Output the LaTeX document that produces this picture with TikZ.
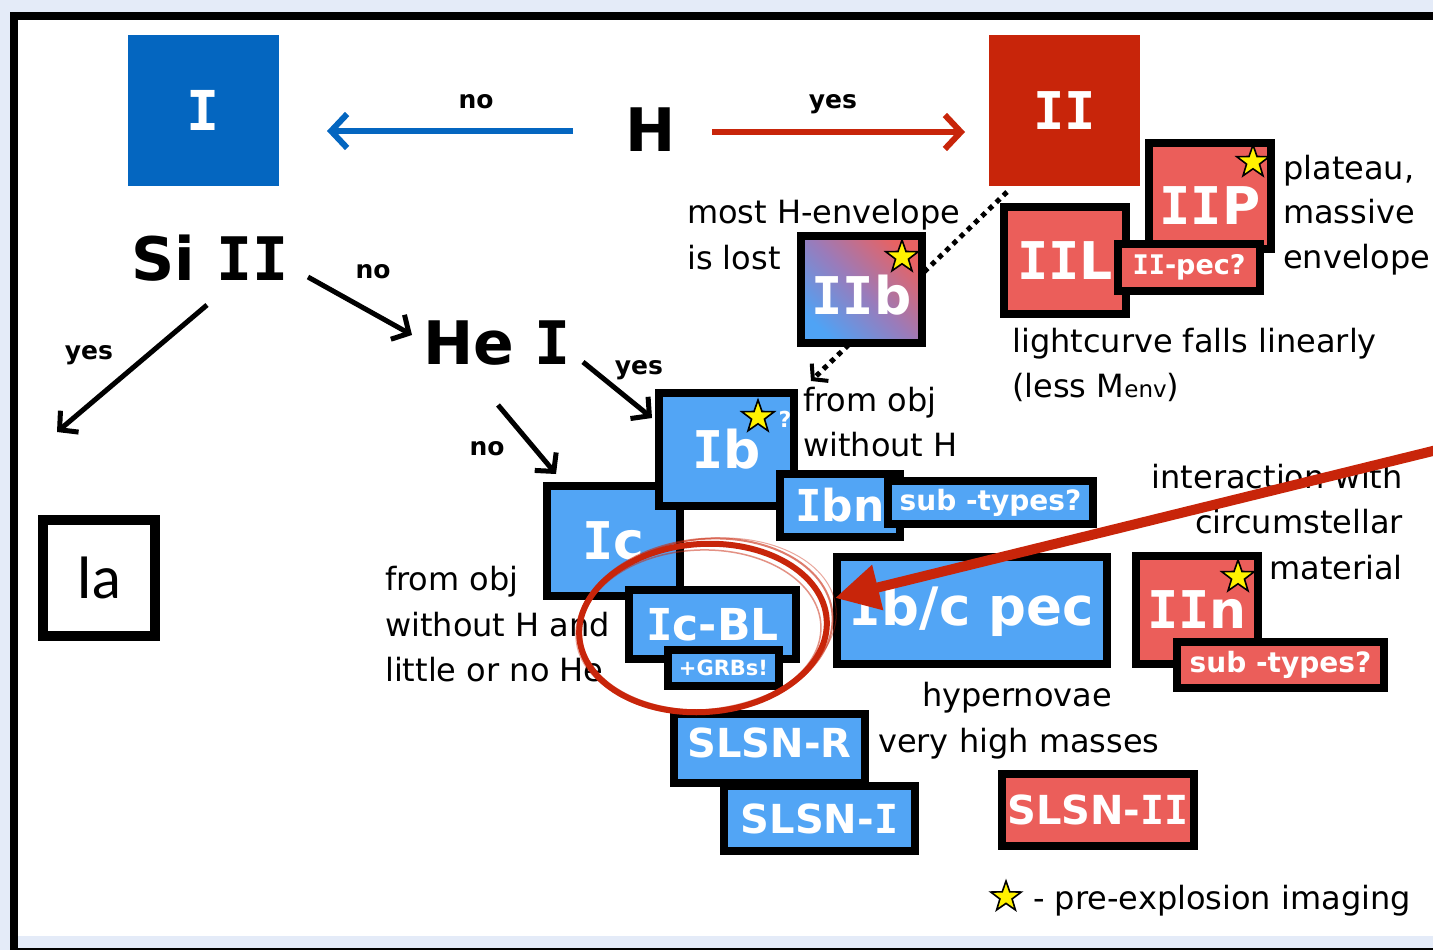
\documentclass[tikz,border=0pt]{standalone}
\usepackage{fontspec}
\setmainfont{DejaVu Sans}
\newfontfamily\monof{DejaVu Sans Mono}
\newfontfamily\latof{Lato}
\usetikzlibrary{shapes.geometric,arrows.meta}
\definecolor{bgc}{HTML}{E4EBF8}
\definecolor{dblue}{HTML}{0466C0}
\definecolor{dred}{HTML}{C8250A}
\definecolor{lblue}{HTML}{52A5F5}
\definecolor{lred}{HTML}{EB5E5A}
\definecolor{gradb}{HTML}{4FA3F5}
\definecolor{gradr}{HTML}{E86262}
\definecolor{gradp}{HTML}{9A7BBA}
\newcommand\fsz[1]{\fontsize{#1}{#1}\selectfont}
\newcommand\Iser{{\monof\bfseries I}}
\begin{document}
\begin{tikzpicture}[x=1pt,y=-1pt,
  tbox/.style={draw=black,line width=8pt,inner sep=0pt,text=white,font=\bfseries\fsz{#1}},
  bbox/.style={tbox=#1,fill=lblue},
  rbox/.style={tbox=#1,fill=lred},
  txt/.style={inner sep=0pt,anchor=base west,font=\fsz{32}},
  lbl/.style={inner sep=0pt,font=\bfseries\fsz{25}},
  ystar/.style={star,star points=5,star point ratio=2.5,fill=yellow,draw=black,line width=1.6pt,minimum size=34pt,inner sep=0pt},
  barrow/.style={line width=5pt,-{Straight Barb[length=13pt,width=28pt]}},
  bigarrow/.style={line width=6pt,-{Straight Barb[length=16pt,width=34pt]}},
  dotline/.style={line width=5pt,dash pattern=on 5pt off 5pt,-{Straight Barb[length=10pt,width=24pt,line width=4pt]}}
]
\useasboundingbox (0,0) rectangle (1433,950);
% frame
\fill[bgc] (0,0) rectangle (1433,950);
\fill[black] (10,12) rectangle (1440,950);
\fill[white] (18,20) rectangle (1440,936);
\fill[bgc] (18,936) rectangle (1440,948);

% main class boxes
\node[fill=dblue,minimum width=151pt,minimum height=151pt,inner sep=0pt,text=white,font=\bfseries\fsz{55}] (I) at (203.5,110.5) {\Iser};
\node[fill=dred,minimum width=151pt,minimum height=151pt,inner sep=0pt,text=white,font=\bfseries\fsz{52}] (II) at (1064.5,110.5) {\Iser\Iser};

\node[inner sep=0pt,font=\bfseries\fsz{60}] (H) at (651,130) {H};
\coordinate (Hl) at (573,131);
\coordinate (Il) at (327,131);
\coordinate (Hr) at (712,132);
\coordinate (IIr) at (965,132);
\draw[bigarrow,dblue] (Hl) -- (Il);
\draw[bigarrow,dred] (Hr) -- (IIr);
\node[lbl] (nolbl1) at (476,102) {no};
\node[lbl] (yeslbl1) at (833,104) {yes};

% Si II / He I tree
\node[inner sep=0pt,font=\bfseries\fsz{60}] (SiII) at (210,258) {Si \Iser\Iser};
\node[inner sep=0pt,font=\bfseries\fsz{60}] (HeI) at (497,343) {He \Iser};
\coordinate (s1) at (308,277); \coordinate (s2) at (412,335);
\coordinate (s3) at (207,305); \coordinate (s4) at (57,432);
\coordinate (h1) at (583,362); \coordinate (h2) at (652,418);
\coordinate (h3) at (498,405); \coordinate (h4) at (556,474);
\draw[barrow] (s1) -- (s2);
\draw[barrow] (s3) -- (s4);
\draw[barrow] (h1) -- (h2);
\draw[barrow] (h3) -- (h4);
\node[lbl] (nolbl2) at (373,272) {no};
\node[lbl] (yeslbl2) at (89,355) {yes};
\node[lbl] (yeslbl3) at (639,370) {yes};
\node[lbl] (nolbl3) at (487,449) {no};

% Ia
\node[draw=black,line width=10pt,fill=white,minimum width=112pt,minimum height=116pt,inner sep=0pt,font=\latof\fsz{58}] (Ia) at (99,578) {Ia};

% texts
\node[txt] (t1) at (687,223) {most H-envelope};
\node[txt] (t2) at (687,269) {is lost};
\node[txt] (t3) at (1283,179) {plateau,};
\node[txt] (t4) at (1283,223) {massive};
\node[txt] (t5) at (1283,268) {envelope};
\node[txt] (t6) at (1012,352) {lightcurve falls linearly};
\node[txt] (t7) at (1012,397) {(less M{\fsz{23}env})};
\node[txt] (t8) at (803,411) {from obj};
\node[txt] (t9) at (803,456) {without H};
\node[txt,anchor=base east] (t10) at (1403,488) {interaction with};
\node[txt,anchor=base east] (t11) at (1403,533) {circumstellar};
\node[txt,anchor=base east] (t12) at (1403,579) {material};
\node[txt] (t13) at (385,590) {from obj};
\node[txt] (t14) at (385,636) {without H and};
\node[txt] (t15) at (385,681) {little or no He};
\node[txt,anchor=base] (t16) at (1017,706) {hypernovae};
\node[txt] (t17) at (878,752) {very high masses};

% dotted IIb line
\coordinate (d1) at (1007,192);
\coordinate (d2) at (811,381);
\draw[dotline] (d1) -- (d2);

% type II family
\node[tbox=52,minimum width=121pt,minimum height=107pt,text height=50pt,text depth=0pt,
  top color=gradr,bottom color=gradb,middle color=gradp,shading angle=-45] (IIb) at (861.5,289.5) {\Iser\Iser b};
\node[ystar] (stIIb) at (902,257) {};
\node[rbox=52,minimum width=122pt,minimum height=107pt] (IIL) at (1065,260.5) {\Iser\Iser L};
\node[rbox=52,minimum width=122pt,minimum height=106pt,text height=56pt,text depth=0pt] (IIP) at (1210,196) {\Iser\Iser P};
\node[ystar] (stIIP) at (1253,162) {};
\node[rbox=27,minimum width=142pt,minimum height=47pt] (IIpec) at (1189,267.5) {\Iser\Iser-pec?};

% type I family
\node[bbox=52,minimum width=133pt,minimum height=110pt] (Ic) at (613.5,541) {\Iser c};
\node[bbox=52,minimum width=135pt,minimum height=113pt] (Ib) at (726.5,449.5) {\Iser b};
\node[ystar] (stIb) at (758,417) {};
\node[inner sep=0pt,text=white,font=\bfseries\fsz{22}] (q) at (785,419) {?};
\node[bbox=44,minimum width=120pt,minimum height=63pt] (Ibn) at (840,505.5) {\Iser bn};
\node[bbox=28,minimum width=205pt,minimum height=43pt] (subB) at (990.5,502.5) {sub -types?};
\node[bbox=44,minimum width=167pt,minimum height=69pt,text height=32pt,text depth=0pt] (IcBL) at (712.5,624.5) {\Iser c-BL};
\node[bbox=21,minimum width=111pt,minimum height=36pt] (GRB) at (723.5,668) {+GRBs!};
\node[bbox=53,minimum width=270pt,minimum height=107pt] (Ibcpec) at (972,610.5) {\Iser b/c pec};
\node[rbox=52,minimum width=122pt,minimum height=108pt] (IIn) at (1197,610) {\Iser\Iser n};
\node[ystar] (stIIn) at (1238,577) {};
\node[rbox=28,minimum width=207pt,minimum height=46pt] (subR) at (1280.5,665) {sub -types?};

% superluminous
\node[bbox=40,minimum width=191pt,minimum height=69pt,text height=17pt,text depth=0pt] (SLSNR) at (769.5,748.5) {SLSN-R};
\node[bbox=40,minimum width=191pt,minimum height=65pt] (SLSNI) at (819.5,818.5) {SLSN-\Iser};
\node[rbox=40,minimum width=192pt,minimum height=72pt] (SLSNII) at (1098,810) {SLSN-\Iser\Iser};

% legend
\node[ystar,minimum size=32pt] (stleg) at (1006,897) {};
\node[txt] (leg) at (1033,909) {- pre-explosion imaging};

% red highlight arrow
\coordinate (rs) at (1445,448);
\coordinate (rt) at (835,598);
\draw[dred,line width=10pt,-{Triangle[length=44pt,width=44pt]}] (rs) -- (rt);

% red brush circle
\draw[dred,line width=6pt,rotate around={4:(703,628)}] (703,628) ellipse [x radius=124pt,y radius=84pt];
\draw[dred,line width=2pt,opacity=.6,rotate around={6:(705,626)}] (705,626) ellipse [x radius=128pt,y radius=87pt];
\draw[dred,line width=1.5pt,opacity=.5,rotate around={2:(701,630)}] (701,630) ellipse [x radius=120pt,y radius=80pt];
\draw[dred,line width=1pt,opacity=.4,rotate around={8:(706,624)}] (706,624) ellipse [x radius=131pt,y radius=85pt];
\end{tikzpicture}
\end{document}
